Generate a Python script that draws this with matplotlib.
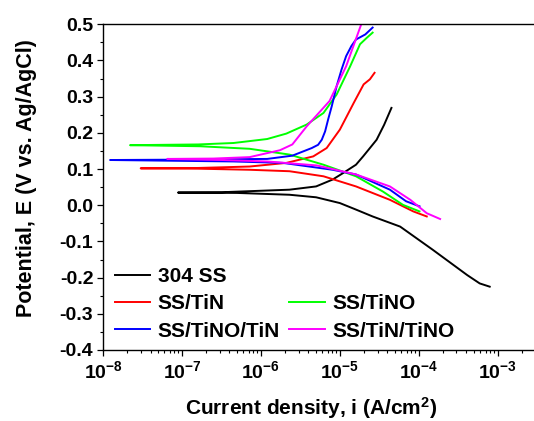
import matplotlib
matplotlib.use('Agg')
import matplotlib.pyplot as plt
import numpy as np
from matplotlib.lines import Line2D
from matplotlib.ticker import FuncFormatter, MultipleLocator, FormatStrFormatter, LogLocator

plt.rcParams['font.family'] = ['Liberation Sans', 'DejaVu Sans']
plt.rcParams['font.weight'] = 'bold'
plt.rcParams['mathtext.fontset'] = 'custom'
plt.rcParams['mathtext.rm'] = 'Liberation Sans:bold'
plt.rcParams['mathtext.bf'] = 'Liberation Sans:bold'
plt.rcParams['mathtext.default'] = 'bf'

# current density (A/cm2) and potential (V) - cathodic end -> Ecorr -> anodic end
i_304 = [7.9e-4, 5.9e-4, 4.1e-4, 1.5e-4, 5.8e-5, 2.6e-5, 1.6e-5, 1.0e-5, 5.0e-6, 2.3e-6, 5.0e-7, 8.9e-8,
         3.2e-7, 2.3e-6, 5.0e-6, 8.1e-6, 1.1e-5, 1.6e-5, 1.97e-5, 2.4e-5, 2.92e-5, 3.63e-5, 4.5e-5]
E_304 = [-0.225, -0.216, -0.193, -0.123, -0.059, -0.031, -0.012, 0.006, 0.022, 0.029, 0.034, 0.035,
         0.036, 0.043, 0.052, 0.071, 0.089, 0.112, 0.135, 0.158, 0.181, 0.222, 0.269]

i_tin = [1.26e-4, 8.5e-5, 4.3e-5, 1.6e-5, 6.2e-6, 2.3e-6, 7.2e-7, 1.6e-7, 3.0e-8,
         1.6e-7, 7.2e-7, 2.1e-6, 4.6e-6, 6.8e-6, 1.0e-5, 1.5e-5, 2.0e-5, 2.4e-5, 2.75e-5]
E_tin = [-0.031, -0.017, 0.015, 0.052, 0.080, 0.094, 0.098, 0.101, 0.102,
         0.103, 0.107, 0.117, 0.135, 0.158, 0.209, 0.283, 0.334, 0.348, 0.366]

i_tino = [1.02e-4, 6.3e-5, 3.5e-5, 1.6e-5, 6.2e-6, 2.3e-6, 7.2e-7, 1.7e-7, 2.2e-8,
          1.6e-7, 4.5e-7, 1.2e-6, 2.1e-6, 3.8e-6, 6.2e-6, 9.1e-6, 1.35e-5, 1.8e-5, 2.2e-5, 2.6e-5]
E_tino = [-0.017, 0.001, 0.038, 0.080, 0.112, 0.140, 0.156, 0.163, 0.166,
          0.168, 0.172, 0.183, 0.198, 0.223, 0.255, 0.306, 0.384, 0.445, 0.463, 0.477]

i_tino_tin = [1.02e-4, 6.9e-5, 4.3e-5, 1.6e-5, 8.1e-6, 1.9e-6, 4.5e-7, 1.23e-8,
              1.0e-7, 1.2e-6, 2.5e-6, 4.4e-6, 5.3e-6, 5.9e-6, 6.5e-6, 7.1e-6, 7.9e-6, 9.1e-6,
              1.05e-5, 1.2e-5, 1.4e-5, 1.6e-5, 2.1e-5, 2.6e-5]
E_tino_tin = [-0.003, 0.011, 0.043, 0.085, 0.098, 0.117, 0.121, 0.125,
              0.126, 0.128, 0.137, 0.158, 0.167, 0.181, 0.204, 0.237, 0.274, 0.329,
              0.375, 0.412, 0.440, 0.458, 0.472, 0.491]

i_tin_tino = [1.86e-4, 1.26e-4, 7.8e-5, 4.3e-5, 1.6e-5, 5.1e-6, 1.2e-6, 3.2e-7, 6.5e-8,
              2.5e-7, 7.2e-7, 1.74e-6, 2.5e-6, 3.8e-6, 7.4e-6, 1.2e-5, 1.9e-5]
E_tin_tino = [-0.038, -0.022, 0.015, 0.052, 0.085, 0.110, 0.121, 0.125, 0.128,
              0.129, 0.133, 0.152, 0.168, 0.218, 0.288, 0.384, 0.505]

fig = plt.figure(figsize=(5.34, 4.21), dpi=100)
ax = fig.add_axes([103/534, 1-350/421, 439/534, 325.7/421])

lw = 1.4
l1, = ax.plot(i_304, E_304, color='black', lw=lw, label='304 SS')
l2, = ax.plot(i_tin, E_tin, color='#ff0000', lw=lw, label='SS/TiN')
l3, = ax.plot(i_tino, E_tino, color='#00ff00', lw=lw, label='SS/TiNO')
l4, = ax.plot(i_tino_tin, E_tino_tin, color='#0000ff', lw=lw, label='SS/TiNO/TiN')
l5, = ax.plot(i_tin_tino, E_tin_tino, color='#ff00ff', lw=lw, label='SS/TiN/TiNO')

ax.set_xscale('log')
ax.set_xlim(1e-8, 10**-2.44)
ax.set_ylim(-0.4, 0.5)

ax.xaxis.set_major_locator(LogLocator(base=10, numticks=10))
ax.xaxis.set_minor_locator(LogLocator(base=10, subs=np.arange(2, 10), numticks=20))
ax.xaxis.set_major_formatter(FuncFormatter(lambda v, p: r'$10^{%d}$' % round(np.log10(v))))
ax.yaxis.set_major_locator(MultipleLocator(0.1))
ax.yaxis.set_minor_locator(MultipleLocator(0.05))
ax.yaxis.set_major_formatter(FormatStrFormatter('%.1f'))

ax.tick_params(which='major', direction='out', length=4.5, width=0.9, labelsize=14, pad=2.5)
ax.tick_params(which='minor', direction='out', length=2.3, width=0.8)
ax.tick_params(top=False, right=False, which='both')
for s in ax.spines.values():
    s.set_linewidth(1.0)

ax.set_xlabel('Current density, i (A/cm$^2$)', fontsize=15, fontweight='bold')
ax.set_ylabel('Potential, E (V vs. Ag/AgCl)', fontsize=15.5, fontweight='bold')
ax.xaxis.set_label_coords(0.475, -0.138)
ax.yaxis.set_label_coords(-0.15, 0.528)

blank = Line2D([], [], linestyle='none')
ax.legend([l1, l2, l4, blank, l3, l5],
          ['304 SS', 'SS/TiN', 'SS/TiNO/TiN', '', 'SS/TiNO', 'SS/TiN/TiNO'],
          ncol=2, frameon=False, loc='upper left', bbox_to_anchor=(0.0273, 0.255),
          borderaxespad=0, borderpad=0, handlelength=1.7, handletextpad=0.35,
          columnspacing=0.45, labelspacing=0.4, prop={'size': 15, 'weight': 'bold'})

fig.savefig('out.png', dpi=100)
